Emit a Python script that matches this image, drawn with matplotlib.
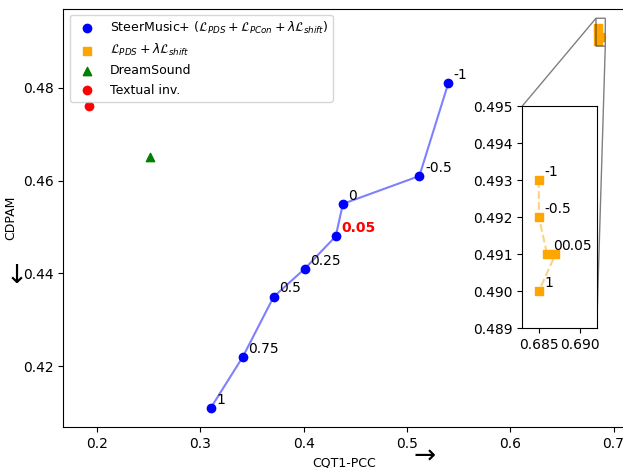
import matplotlib.pyplot as plt

# SteerMusic+ (L_PDS + L_PCon + lambda L_shift)
steer_lambda = ["1", "0.75", "0.5", "0.25", "0.05", "0", "-0.5", "-1"]
steer_x = [0.310, 0.341, 0.371, 0.401, 0.431, 0.438, 0.512, 0.540]
steer_y = [0.411, 0.422, 0.435, 0.441, 0.448, 0.455, 0.461, 0.481]

# L_PDS + lambda L_shift
pds_lambda = ["-1", "-0.5", "0", "0.05", "1"]
pds_x = [0.685, 0.685, 0.686, 0.687, 0.685]
pds_y = [0.493, 0.492, 0.491, 0.491, 0.490]

dream_x, dream_y = [0.251], [0.465]
textinv_x, textinv_y = [0.192], [0.476]

fig = plt.figure(figsize=(6.23, 4.68), dpi=100)
ax = fig.add_axes([0.1016, 0.0876, 0.9027, 0.8942])

ax.plot(steer_x, steer_y, color='blue', alpha=0.5, zorder=1)
ax.scatter(steer_x, steer_y, color='blue', zorder=2,
           label=r'SteerMusic+ ($\mathcal{L}_{PDS} + \mathcal{L}_{PCon} + \lambda\mathcal{L}_{shift}$)')
ax.plot(pds_x, pds_y, color='orange', linestyle='--', alpha=0.5, zorder=1)
ax.scatter(pds_x, pds_y, color='orange', marker='s', zorder=2,
           label=r'$\mathcal{L}_{PDS} + \lambda\mathcal{L}_{shift}$')
ax.scatter(dream_x, dream_y, color='green', marker='^', label='DreamSound')
ax.scatter(textinv_x, textinv_y, color='red', label='Textual inv.')

for lab, x, y in zip(steer_lambda, steer_x, steer_y):
    if lab == "0.05":
        ax.annotate(lab, (x, y), xytext=(4, 3), textcoords='offset points',
                    color='red', fontweight='bold')
    else:
        ax.annotate(lab, (x, y), xytext=(4, 3), textcoords='offset points')

ax.set_xlabel('CQT1-PCC', fontsize=9)
ax.set_ylabel('CDPAM', fontsize=9)
ax.legend(loc='upper left', fontsize=9)

# direction arrows next to the axis labels
fig.text(0.026, 0.41, '↓', fontsize=19, ha='center', va='center')
fig.text(0.681, 0.024, '→', fontsize=19, ha='center', va='center')

# zoomed inset for the orange cluster
axins = fig.add_axes([0.8384, 0.2985, 0.1194, 0.475])
axins.plot(pds_x, pds_y, color='orange', linestyle='--', alpha=0.5, zorder=1)
axins.scatter(pds_x, pds_y, color='orange', marker='s', zorder=2)
for lab, x, y in zip(pds_lambda, pds_x, pds_y):
    axins.annotate(lab, (x, y), xytext=(4, 3), textcoords='offset points')
axins.set_xlim(0.683, 0.692)
axins.set_ylim(0.489, 0.495)
axins.set_xticks([0.685, 0.690])
axins.set_yticks([0.489, 0.490, 0.491, 0.492, 0.493, 0.494, 0.495])
axins.yaxis.set_major_formatter(plt.FormatStrFormatter('%.3f'))
ax.indicate_inset_zoom(axins, edgecolor='black')

fig.savefig('out.png', dpi=100)
